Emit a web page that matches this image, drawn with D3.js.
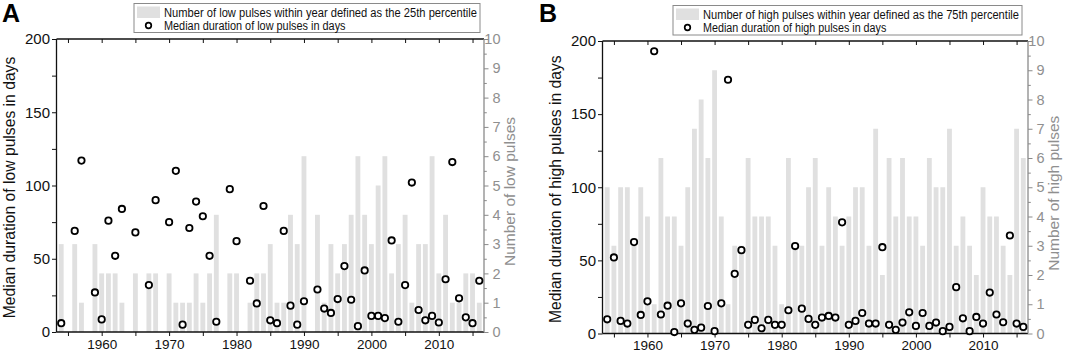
<!DOCTYPE html>
<html>
<head>
<meta charset="utf-8">
<script src="https://cdn.jsdelivr.net/npm/d3@7"></script>
<style>
  body { margin: 0; background: #fff; }
  svg { display: block; font-family: Arial, "Liberation Sans", sans-serif; }
</style>
</head>
<body>
<svg id="chart" width="1065" height="356"></svg>
<script>
// years shown on both panels
let years = d3.range(1954, 2017);

// panel A: low pulses (count per year, median duration in days; null = no pulse)
let lowCount = [3, 0, 3, 1, 0, 3, 2, 2, 2, 1, 0, 2, 0, 2, 2, 0, 2, 1, 1, 1,
  2, 1, 2, 4, 0, 2, 2, 0, 1, 2, 2, 3, 1, 1, 4, 3, 6, 0, 4, 1,
  3, 2, 3, 4, 6, 4, 3, 5, 6, 2, 3, 4, 1, 3, 3, 6, 2, 4, 1, 1,
  2, 2, 1];
let lowDuration = [6, null, 69, 117, null, 27, 8.6, 76, 52, 84, null, 68, null, 32, 90, null, 75, 110, 5, 71,
  89, 79, 52, 7, null, 97.5, 62, null, 35, 19.5, 86, 8, 6, 69, 18, 5, 21, null, 29, 16,
  13, 22.5, 45, 22, 4, 42, 11, 11, 9.5, 62.5, 7, 32, 102, 15, 8, 11, 6.5, 36, 116, 23,
  10, 6, 35];

// panel B: high pulses
let highCount = [5, 3, 5, 5, 3, 5, 4, 1, 6, 4, 4, 3, 5, 7, 8, 6, 9, 4, 1, 3,
  3, 6, 4, 4, 4, 3, 1, 6, 3, 3, 5, 6, 3, 5, 4, 3, 4, 5, 5, 3,
  7, 2, 6, 4, 6, 4, 4, 3, 6, 5, 5, 7, 3, 4, 3, 2, 5, 4, 4, 3,
  2, 7, 6];
let highDuration = [9.7, 52, 8.6, 6.8, 62.5, 12.7, 22, 193, 13, 19, 1, 20.6, 6.8, 2.5, 4, 18.8, 1.6, 20.6, 173.5, 40.8,
  57, 5.9, 9.3, 3.6, 9.3, 5.9, 5.9, 15.9, 59.8, 17, 10, 5.9, 10.9, 12, 10.9, 76, 5.9, 8.6, 14, 6.8,
  6.8, 59, 5.9, 2.5, 7.5, 14.5, 5.2, 14, 5.2, 7.5, 1.6, 4.5, 31.7, 10.4, 1.6, 11.3, 6.8, 28, 13, 7.7,
  67, 6.8, 4.5];

let panels = [
  {
    letter: "A", letterX: 2, left: 56.5, right: 484, top: 39, bottom: 332,
    counts: lowCount, durations: lowDuration,
    barLabel: "Number of low pulses within year defined as the 25th percentile",
    dotLabel: "Median duration of low pulses in days",
    leftTitle: "Median duration of low pulses in days",
    rightTitle: "Number of low pulses",
    legend: { x: 134, y: 3.5, w: 346, h: 29 }
  },
  {
    letter: "B", letterX: 539, left: 602.5, right: 1028, top: 41, bottom: 333.5,
    counts: highCount, durations: highDuration,
    barLabel: "Number of high pulses within year defined as the 75th percentile",
    dotLabel: "Median duration of high pulses in days",
    leftTitle: "Median duration of high pulses in days",
    rightTitle: "Number of high pulses",
    legend: { x: 673, y: 5.5, w: 349, h: 29.5 }
  }
];

let svg = d3.select("#chart");
let axisGray = "#8a8a8a";

panels.forEach(function (p) {
  let g = svg.append("g");

  let x = d3.scaleLinear().domain([1953.3, 2016.7]).range([p.left, p.right]);
  let yL = d3.scaleLinear().domain([0, 200]).range([p.bottom, p.top]);
  let yR = d3.scaleLinear().domain([0, 10]).range([p.bottom, p.top]);
  let barW = (x(1955) - x(1954)) * 0.72;

  // bars
  g.append("g").selectAll("rect")
    .data(years.map(function (yr, i) { return { year: yr, n: p.counts[i] }; }).filter(d => d.n > 0))
    .join("rect")
    .attr("x", d => x(d.year) - barW / 2)
    .attr("y", d => yR(d.n))
    .attr("width", barW)
    .attr("height", d => yR(0) - yR(d.n))
    .attr("fill", "#e0e0e0");

  // left axis (black)
  let leftAxis = d3.axisLeft(yL).tickValues(d3.range(0, 201, 25))
    .tickFormat(d => d % 50 === 0 ? d : "").tickSize(4.5).tickPadding(2);
  let la = g.append("g").attr("transform", "translate(" + p.left + ",0)").call(leftAxis);
  la.select(".domain").remove();
  la.selectAll("text").attr("font-size", 15).attr("fill", "#111");
  la.selectAll("line").attr("stroke", "#111");

  // bottom axis
  let bottomAxis = d3.axisBottom(x).tickValues(d3.range(1955, 2016, 5))
    .tickFormat(d => d % 10 === 0 ? d : "").tickSize(4).tickPadding(3);
  let ba = g.append("g").attr("transform", "translate(0," + p.bottom + ")").call(bottomAxis);
  ba.select(".domain").remove();
  ba.selectAll("text").attr("font-size", 13.5).attr("fill", "#111");
  ba.selectAll("line").attr("stroke", "#111");

  // top axis, ticks pointing in
  let topAxis = d3.axisTop(x).tickValues(d3.range(1955, 2016, 5)).tickFormat("").tickSize(-4);
  let ta = g.append("g").attr("transform", "translate(0," + p.top + ")").call(topAxis);
  ta.select(".domain").remove();
  ta.selectAll("line").attr("stroke", "#111");

  // right axis (gray), labels right-aligned
  let rightAxis = d3.axisRight(yR).tickValues(d3.range(0, 10.01, 0.5))
    .tickFormat(d => Number.isInteger(d) ? d : "").tickSize(4.5).tickPadding(3);
  let ra = g.append("g").attr("transform", "translate(" + p.right + ",0)").call(rightAxis);
  ra.select(".domain").remove();
  ra.selectAll("line").attr("stroke", axisGray)
    .attr("x2", d => Number.isInteger(d) ? 4.5 : 2.8);
  ra.selectAll("text").attr("font-size", 14.5).attr("fill", "#8f8f8f")
    .attr("text-anchor", "end").attr("x", 16.5);

  // frame lines
  g.append("line").attr("x1", p.left).attr("x2", p.right).attr("y1", p.top).attr("y2", p.top)
    .attr("stroke", "#111").attr("stroke-width", 1.3);
  g.append("line").attr("x1", p.left).attr("x2", p.right).attr("y1", p.bottom).attr("y2", p.bottom)
    .attr("stroke", "#111").attr("stroke-width", 1.3);
  g.append("line").attr("x1", p.left).attr("x2", p.left).attr("y1", p.top).attr("y2", p.bottom)
    .attr("stroke", "#111").attr("stroke-width", 1.3);
  g.append("line").attr("x1", p.right).attr("x2", p.right).attr("y1", p.top).attr("y2", p.bottom)
    .attr("stroke", axisGray).attr("stroke-width", 1.3);

  // circles
  g.append("g").selectAll("circle")
    .data(years.map(function (yr, i) { return { year: yr, v: p.durations[i] }; }).filter(d => d.v !== null))
    .join("circle")
    .attr("cx", d => x(d.year))
    .attr("cy", d => yL(d.v))
    .attr("r", 3.2)
    .attr("fill", "#fff")
    .attr("stroke", "#000")
    .attr("stroke-width", 1.8);

  // axis titles
  let midY = (p.top + p.bottom) / 2;
  g.append("text")
    .attr("transform", "translate(" + (p.left - 42) + "," + (midY + 2) + ") rotate(-90)")
    .attr("text-anchor", "middle").attr("font-size", 15.7).attr("fill", "#111")
    .text(p.leftTitle);
  g.append("text")
    .attr("transform", "translate(" + (p.right + 31) + "," + (midY + 6) + ") rotate(-90)")
    .attr("text-anchor", "middle").attr("font-size", 15.5).attr("fill", "#8f8f8f")
    .text(p.rightTitle);

  // panel letter
  g.append("text").attr("x", p.letterX).attr("y", 22)
    .attr("font-size", 25).attr("font-weight", "bold").text(p.letter);

  // legend
  let L = p.legend;
  let lg = g.append("g");
  lg.append("rect").attr("x", L.x).attr("y", L.y).attr("width", L.w).attr("height", L.h)
    .attr("fill", "#fff").attr("stroke", "#8a8a8a").attr("stroke-width", 1);
  lg.append("rect").attr("x", L.x + 3).attr("y", L.y + 3).attr("width", 23).attr("height", 11.5)
    .attr("fill", "#e0e0e0");
  lg.append("circle").attr("cx", L.x + 14.5).attr("cy", L.y + 22).attr("r", 2.8)
    .attr("fill", "#fff").attr("stroke", "#000").attr("stroke-width", 1.7);
  lg.append("text").attr("x", L.x + 30).attr("y", L.y + 13).attr("font-size", 12.5)
    .attr("textLength", L.w - 33).attr("lengthAdjust", "spacingAndGlyphs")
    .attr("fill", "#111").text(p.barLabel);
  lg.append("text").attr("x", L.x + 30).attr("y", L.y + 26.5).attr("font-size", 12.5)
    .attr("textLength", (L.w - 33) * 0.58).attr("lengthAdjust", "spacingAndGlyphs")
    .attr("fill", "#111").text(p.dotLabel);
});
</script>
</body>
</html>
